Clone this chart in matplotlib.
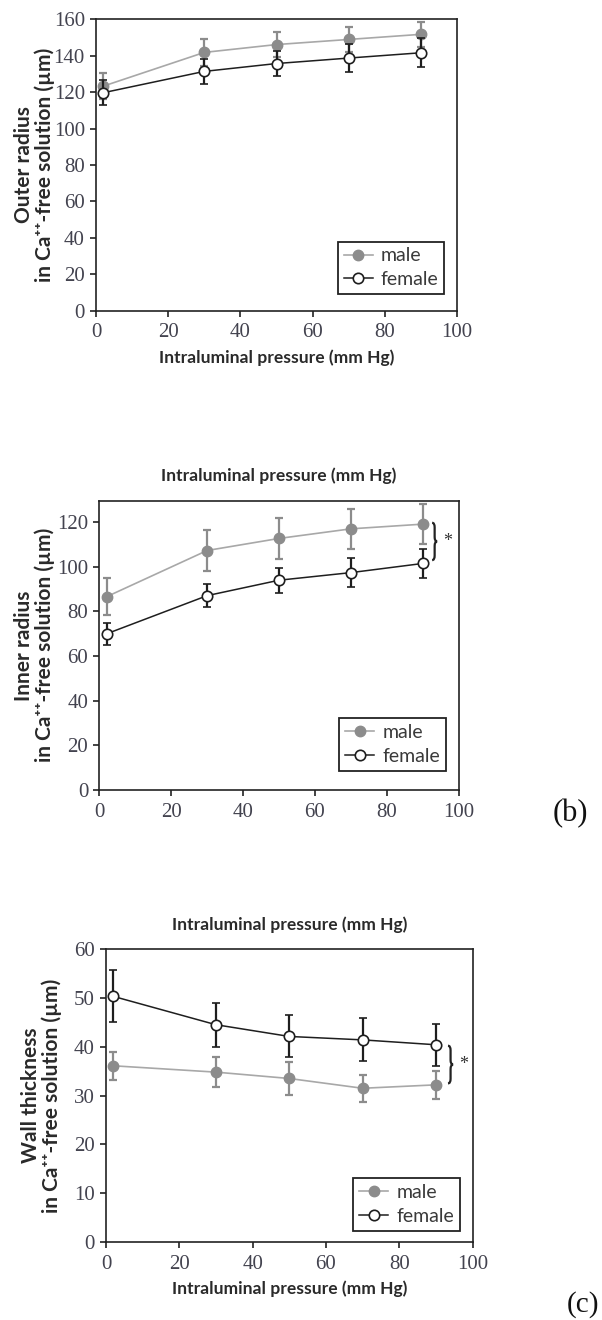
import matplotlib
matplotlib.use("Agg")
import matplotlib.pyplot as plt
from matplotlib.lines import Line2D
from matplotlib.path import Path
from matplotlib.patches import PathPatch

# ---- data ----
pressure = [2, 30, 50, 70, 90]

outer_male = [123.2, 141.7, 146.0, 148.8, 151.6]
outer_male_err = [7.0, 7.3, 7.0, 7.0, 7.0]
outer_female = [119.6, 131.3, 135.6, 138.6, 141.5]
outer_female_err = [6.8, 6.9, 7.0, 7.7, 8.0]

inner_male = [86.5, 107.2, 112.6, 116.9, 119.0]
inner_male_err = [8.2, 9.0, 9.0, 9.0, 9.0]
inner_female = [69.9, 87.0, 93.9, 97.3, 101.4]
inner_female_err = [4.9, 5.1, 5.6, 6.5, 6.4]

wall_male = [36.1, 34.8, 33.5, 31.5, 32.2]
wall_male_err = [2.9, 3.1, 3.4, 2.8, 2.8]
wall_female = [50.3, 44.5, 42.1, 41.4, 40.4]
wall_female_err = [5.3, 4.5, 4.3, 4.4, 4.3]

xticks = [0, 20, 40, 60, 80, 100]
xlabel_text = "Intraluminal pressure (mm Hg)"
ylabels = ["Outer radius\nin Ca\u207a\u207a-free solution (µm)",
           "Inner radius\nin Ca\u207a\u207a-free solution (µm)",
           "Wall thickness\nin Ca\u207a\u207a-free solution (µm)"]
legend_labels = ["male", "female"]

MALE_C = "#8c8c8c"
MALE_LINE = "#a8a8a8"
FEM_C = "#1e1e1e"
TICK_C = "#43434f"
LAB_FONT = ["Lato", "DejaVu Sans"]
TICK_FONT = "Liberation Serif"

fig = plt.figure(figsize=(6.02, 13.2), dpi=100)


def draw_brace(ax, bx, y0, y1, w=1.4):
    """Right-pointing curly brace from y0 to y1 at data x bx."""
    ym = (y0 + y1) / 2
    r = (y1 - y0) * 0.12
    h = w / 2
    verts = [(bx, y1), (bx + h, y1), (bx + h, y1 - r),
             (bx + h, ym + r),
             (bx + h, ym), (bx + w, ym),
             (bx + h, ym), (bx + h, ym - r),
             (bx + h, y0 + r),
             (bx + h, y0), (bx, y0)]
    codes = [Path.MOVETO, Path.CURVE3, Path.CURVE3,
             Path.LINETO,
             Path.CURVE3, Path.CURVE3,
             Path.CURVE3, Path.CURVE3,
             Path.LINETO,
             Path.CURVE3, Path.CURVE3]
    patch = PathPatch(Path(verts, codes), fc="none", ec="#222222", lw=1.6,
                      clip_on=False)
    ax.add_patch(patch)


def panel(rect, male, male_err, fem, fem_err, ylim, yticks, ylabel,
          legend_pos, ylab_x, xlabel_bottom=True, xlabel_top=False,
          brace=None):
    ax = fig.add_axes(rect)
    ax.errorbar(pressure, male, yerr=male_err, color=MALE_LINE, ecolor=MALE_C,
                elinewidth=1.6, capsize=3, capthick=1.6, lw=1.2,
                marker="o", ms=7.5, mfc=MALE_C, mec=MALE_C, zorder=2)
    ax.errorbar(pressure, fem, yerr=fem_err, color=FEM_C, ecolor=FEM_C,
                elinewidth=1.6, capsize=3, capthick=1.6, lw=1.1,
                marker="o", ms=7.5, mfc="white", mec=FEM_C, mew=1.2, zorder=3)
    ax.set_xlim(0, 100)
    ax.set_ylim(*ylim)
    ax.set_xticks(xticks)
    ax.set_yticks(yticks)
    for lab in ax.get_xticklabels() + ax.get_yticklabels():
        lab.set_fontfamily(TICK_FONT)
        lab.set_fontsize(15)
        lab.set_color(TICK_C)
    ax.tick_params(direction="out", length=4, width=1.2, colors="#222222",
                   labelcolor=TICK_C)
    ax.tick_params(axis="x", pad=5)
    ax.tick_params(axis="y", pad=4)
    for s in ax.spines.values():
        s.set_linewidth(1.2)
        s.set_color("#222222")
    ax.set_ylabel(ylabel, fontfamily=LAB_FONT, fontweight="bold", fontsize=15,
                  color="#2a2a2a", linespacing=1.0)
    ax.yaxis.set_label_coords(ylab_x, 0.5)
    if xlabel_bottom:
        ax.set_xlabel(xlabel_text, fontfamily=LAB_FONT, fontweight="bold",
                      fontsize=12.6, color="#2a2a2a", labelpad=5)
    if xlabel_top:
        ax.set_title(xlabel_text, fontfamily=LAB_FONT, fontweight="bold",
                     fontsize=12.6, color="#2a2a2a", pad=14)
    handles = [Line2D([], [], color=MALE_LINE, lw=1.2, marker="o", ms=7.5,
                      mfc=MALE_C, mec=MALE_C),
               Line2D([], [], color=FEM_C, lw=1.1, marker="o", ms=7.5,
                      mfc="white", mec=FEM_C, mew=1.2)]
    leg = ax.legend(handles, legend_labels, loc="lower right",
                    bbox_to_anchor=legend_pos, frameon=True,
                    fancybox=False, edgecolor="#222222", framealpha=1,
                    prop={"family": LAB_FONT, "size": 14}, handlelength=1.5,
                    handletextpad=0.4, borderpad=0.3, labelspacing=0.35,
                    borderaxespad=0)
    leg.get_frame().set_linewidth(1.3)
    for t in leg.get_texts():
        t.set_color("#3a3a3a")
    if brace is not None:
        bx, y0, y1, ax_star = brace
        draw_brace(ax, bx, y0, y1)
        ax.text(ax_star, (y0 + y1) / 2, "*", fontfamily=TICK_FONT,
                fontsize=13, ha="center", va="center", color="#333333",
                clip_on=False)
    return ax


panel([0.1595, 0.7644, 0.5997, 0.2212], outer_male, outer_male_err,
      outer_female, outer_female_err, (0, 160), list(range(0, 161, 20)),
      ylabels[0], (0.964, 0.058), -0.114)

panel([0.165, 0.4015, 0.597, 0.2192], inner_male, inner_male_err,
      inner_female, inner_female_err, (0, 129.5), list(range(0, 121, 20)),
      ylabels[1], (0.964, 0.067), -0.124, xlabel_bottom=False,
      xlabel_top=True, brace=(92.6, 102.9, 119.6, 97.0))

panel([0.176, 0.0589, 0.609, 0.2222], wall_male, wall_male_err,
      wall_female, wall_female_err, (0, 60), list(range(0, 61, 10)),
      ylabels[2], (0.965, 0.04), -0.121, xlabel_bottom=True,
      xlabel_top=True, brace=(93.3, 32.5, 40.2, 97.6))

fig.text(553 / 602, 1 - 814 / 1320, "(b)", fontfamily=TICK_FONT, fontsize=22,
         ha="left", va="center", color="#111111")
fig.text(567 / 602, 1 - 1305 / 1320, "(c)", fontfamily=TICK_FONT, fontsize=21,
         ha="left", va="center", color="#111111")

fig.savefig("out.png", dpi=100, facecolor="white")
